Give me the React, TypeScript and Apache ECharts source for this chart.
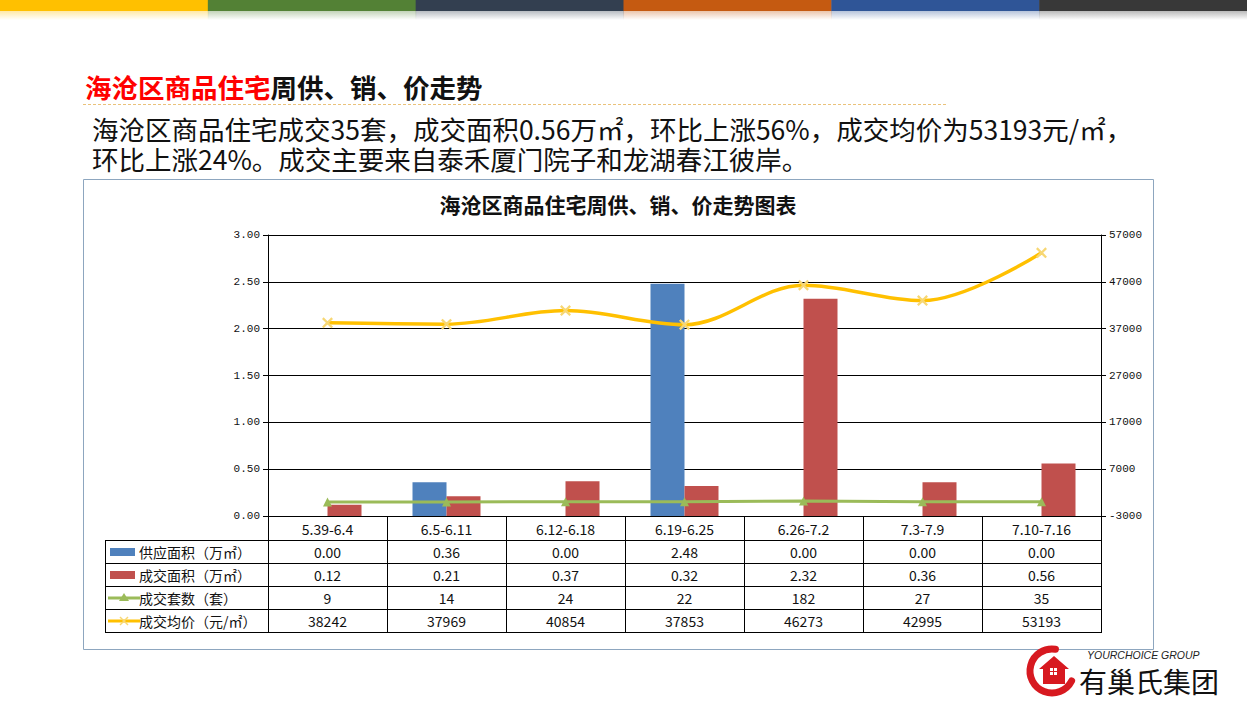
import React, { useEffect, useRef } from "react";
import * as echarts from "echarts";

const categories = ["5.39-6.4", "6.5-6.11", "6.12-6.18", "6.19-6.25", "6.26-7.2", "7.3-7.9", "7.10-7.16"];
const supplyArea = [0.0, 0.36, 0.0, 2.48, 0.0, 0.0, 0.0];
const dealArea = [0.12, 0.21, 0.37, 0.32, 2.32, 0.36, 0.56];
const dealUnits = [9, 14, 24, 22, 182, 27, 35];
const avgPrice = [38242, 37969, 40854, 37853, 46273, 42995, 53193];
const leftTicks = [0, 0.5, 1, 1.5, 2, 2.5, 3];
const rightTicks = [-3000, 7000, 17000, 27000, 37000, 47000, 57000];
const seriesNames = ["供应面积（万㎡）", "成交面积（万㎡）", "成交套数（套）", "成交均价（元/㎡）"];
const topBarColors = ["#FFC000", "#538135", "#333F50", "#C55A11", "#2F5597", "#383838"];

const C_BLUE = "#4F81BD";
const C_RED = "#C0504D";
const C_GREEN = "#9BBB59";
const C_YELLOW = "#FFC000";
const X_SYMBOL = "path://M0,1.5L1.5,0L5,3.5L8.5,0L10,1.5L6.5,5L10,8.5L8.5,10L5,6.5L1.5,10L0,8.5L3.5,5Z";
const CJK = '"Noto Sans CJK SC", "Microsoft YaHei", sans-serif';
const MONO = '"Liberation Mono", "DejaVu Sans Mono", monospace';

const GL = 268;
const GR = 1101;
const GT = 235;
const GB = 516;
const ROWS = [516, 540, 563, 586, 609, 632];
const TL = 105;

function txt(x: number, y: number, text: string, font: string, fill: string, align = "left", extra: any = {}) {
  return {
    type: "text",
    x,
    y,
    silent: true,
    style: {
      text,
      font,
      fill,
      textAlign: align,
      align,
      textVerticalAlign: "middle",
      verticalAlign: "middle",
      ...extra,
    },
  };
}

function line(x1: number, y1: number, x2: number, y2: number, stroke: string, lineWidth = 1, extra: any = {}) {
  return {
    type: "line",
    silent: true,
    shape: { x1, y1, x2, y2 },
    style: { stroke, lineWidth, ...extra },
  };
}

function buildGraphics() {
  const g: any[] = [];
  const W = 1247;
  const segW = W / topBarColors.length;
  topBarColors.forEach((c, i) => {
    g.push({ type: "rect", silent: true, shape: { x: i * segW, y: 0, width: segW + 0.5, height: 11 }, style: { fill: c } });
    g.push({
      type: "rect",
      silent: true,
      shape: { x: i * segW, y: 11, width: segW + 0.5, height: 9 },
      style: {
        fill: {
          type: "linear", x: 0, y: 0, x2: 0, y2: 1,
          colorStops: [
            { offset: 0, color: echarts.color.modifyAlpha(c, 0.35) },
            { offset: 1, color: echarts.color.modifyAlpha(c, 0) },
          ],
        },
      },
    });
  });

  // heading
  g.push({
    type: "text",
    x: 85,
    y: 86,
    silent: true,
    style: {
      text: "{r|海沧区商品住宅}{b|周供、销、价走势}",
      textVerticalAlign: "middle",
      verticalAlign: "middle",
      rich: {
        r: { fill: "#FF0000", font: `bold 26.5px ${CJK}` },
        b: { fill: "#111111", font: `bold 26.5px ${CJK}` },
      },
    },
  });
  g.push(line(83, 104.5, 948, 104.5, "#EAC27A", 1, { lineDash: [3, 2] }));

  g.push({
    type: "text",
    x: 92,
    y: 113,
    silent: true,
    style: {
      text: "海沧区商品住宅成交35套，成交面积0.56万㎡，环比上涨56%，成交均价为53193元/㎡，\n环比上涨24%。成交主要来自泰禾厦门院子和龙湖春江彼岸。",
      font: `26.5px ${CJK}`,
      fill: "#111111",
      lineHeight: 30,
      textAlign: "left",
      align: "left",
      textVerticalAlign: "top",
      verticalAlign: "top",
    },
  });

  // chart frame
  g.push({
    type: "rect",
    silent: true,
    z: -1,
    shape: { x: 83.5, y: 179.5, width: 1070, height: 470 },
    style: { fill: "#FFFFFF", stroke: "#8DA6BF", lineWidth: 1 },
  });
  g.push(txt(618, 204, "海沧区商品住宅周供、销、价走势图表", `bold 21px ${CJK}`, "#111111", "center"));

  // data table
  const colW = (GR - GL) / categories.length;
  for (let r = 1; r < ROWS.length; r++) {
    g.push(line(TL, ROWS[r] + 0.5, GR, ROWS[r] + 0.5, "#000000"));
  }
  g.push(line(TL + 0.5, ROWS[1], TL + 0.5, ROWS[ROWS.length - 1] + 1, "#000000"));
  for (let i = 0; i <= categories.length; i++) {
    const x = Math.round(GL + i * colW) + 0.5;
    g.push(line(x, ROWS[0], x, ROWS[ROWS.length - 1] + 1, "#000000"));
  }
  const rowTexts = [
    supplyArea.map((v) => v.toFixed(2)),
    dealArea.map((v) => v.toFixed(2)),
    dealUnits.map((v) => String(v)),
    avgPrice.map((v) => String(v)),
  ];
  rowTexts.forEach((vals, r) => {
    const cy = (ROWS[r + 1] + ROWS[r + 2]) / 2 + 0.5;
    vals.forEach((t, i) => {
      g.push(txt(GL + colW * (i + 0.5), cy, t, `14px ${CJK}`, "#111111", "center"));
    });
    g.push(txt(139, cy, seriesNames[r], `14px ${CJK}`, "#111111", "left"));
    if (r === 0 || r === 1) {
      g.push({ type: "rect", silent: true, shape: { x: 110, y: cy - 4, width: 25, height: 8 }, style: { fill: r === 0 ? C_BLUE : C_RED } });
    } else if (r === 2) {
      g.push(line(108, cy, 140, cy, C_GREEN, 3));
      g.push({ type: "polygon", silent: true, shape: { points: [[124, cy - 5], [129, cy + 3], [119, cy + 3]] }, style: { fill: C_GREEN } });
    } else {
      g.push(line(108, cy, 140, cy, C_YELLOW, 3));
      g.push(line(120, cy - 4, 128, cy + 4, "#F7D774", 1.5));
      g.push(line(128, cy - 4, 120, cy + 4, "#F7D774", 1.5));
    }
  });

  // logo
  g.push({
    type: "arc",
    silent: true,
    shape: { cx: 1052, cy: 671, r: 22, startAngle: Math.PI * 0.15, endAngle: Math.PI * 1.55, clockwise: true },
    style: { stroke: "#D71920", lineWidth: 7, fill: "none", lineCap: "round" },
  });
  g.push({
    type: "polygon",
    silent: true,
    shape: { points: [[1039, 669], [1054, 656], [1069, 669], [1065, 669], [1065, 684], [1043, 684], [1043, 669]] },
    style: { fill: "#D71920" },
  });
  g.push({ type: "rect", silent: true, shape: { x: 1050, y: 668, width: 3, height: 3 }, style: { fill: "#FFFFFF" } });
  g.push({ type: "rect", silent: true, shape: { x: 1054, y: 668, width: 3, height: 3 }, style: { fill: "#FFFFFF" } });
  g.push({ type: "rect", silent: true, shape: { x: 1050, y: 672, width: 3, height: 3 }, style: { fill: "#FFFFFF" } });
  g.push({ type: "rect", silent: true, shape: { x: 1054, y: 672, width: 3, height: 3 }, style: { fill: "#FFFFFF" } });
  g.push(txt(1087, 655, "YOURCHOICE GROUP", `italic 10.5px "Liberation Sans", Arial, sans-serif`, "#222222"));
  g.push(txt(1079, 681, "有巢氏集团", `28px ${CJK}`, "#111111"));
  return g;
}

export default function App() {
  const ref = useRef<HTMLDivElement>(null);
  useEffect(() => {
    if (!ref.current) return;
    const chart = echarts.init(ref.current, undefined, { renderer: "svg" });
    const option: any = {
      animation: false,
      backgroundColor: "#FFFFFF",
      grid: { left: GL, top: GT, width: GR - GL, height: GB - GT, containLabel: false },
      xAxis: {
        type: "category",
        data: categories,
        boundaryGap: true,
        axisLine: { show: true, lineStyle: { color: "#000000", width: 1 } },
        axisTick: { show: false },
        axisLabel: { interval: 0, fontSize: 14, fontFamily: CJK, color: "#111111", margin: 6 },
        splitLine: { show: false },
        z: 10,
      },
      yAxis: [
        {
          type: "value",
          min: leftTicks[0],
          max: leftTicks[leftTicks.length - 1],
          interval: 0.5,
          axisLine: { show: true, lineStyle: { color: "#000000" } },
          axisTick: { show: true, length: 5, lineStyle: { color: "#000000" } },
          axisLabel: { fontSize: 11, fontFamily: MONO, color: "#111111", margin: 8, formatter: (v: number) => v.toFixed(2) },
          splitLine: { show: true, lineStyle: { color: "#000000", width: 1 } },
        },
        {
          type: "value",
          position: "right",
          min: rightTicks[0],
          max: rightTicks[rightTicks.length - 1],
          axisLine: { show: true, lineStyle: { color: "#000000" } },
          axisTick: { show: true, length: 5, customValues: rightTicks, lineStyle: { color: "#000000" } },
          axisLabel: {
            fontSize: 11,
            fontFamily: MONO,
            color: "#111111",
            margin: 8,
            customValues: rightTicks,
            formatter: (v: number) => String(Math.round(v)),
          },
          splitLine: { show: false },
        },
      ],
      series: [
        {
          name: seriesNames[0],
          type: "bar",
          data: supplyArea,
          yAxisIndex: 0,
          barWidth: 34,
          barGap: "0%",
          itemStyle: { color: C_BLUE },
          z: 2,
        },
        {
          name: seriesNames[1],
          type: "bar",
          data: dealArea,
          yAxisIndex: 0,
          barWidth: 34,
          barGap: "0%",
          itemStyle: { color: C_RED },
          z: 2,
        },
        {
          name: seriesNames[2],
          type: "line",
          data: dealUnits,
          yAxisIndex: 1,
          symbol: "triangle",
          symbolSize: 9,
          lineStyle: { color: C_GREEN, width: 3 },
          itemStyle: { color: C_GREEN },
          z: 4,
        },
        {
          name: seriesNames[3],
          type: "line",
          data: avgPrice,
          yAxisIndex: 1,
          smooth: 0.35,
          symbol: X_SYMBOL,
          symbolSize: 11,
          lineStyle: { color: C_YELLOW, width: 3.5 },
          itemStyle: { color: "#F7D774" },
          z: 5,
        },
      ],
      graphic: { elements: buildGraphics() },
    };
    chart.setOption(option);
    return () => chart.dispose();
  }, []);
  return (
    <div
      ref={ref}
      style={{ position: "fixed", left: 0, top: 0, width: 1247, height: 718, background: "#FFFFFF" }}
    />
  );
}
